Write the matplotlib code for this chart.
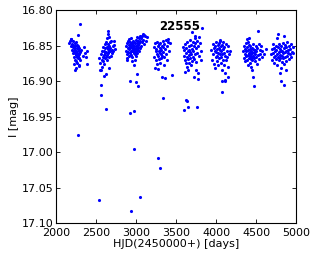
import numpy as np
import matplotlib
matplotlib.use("Agg")
import matplotlib.pyplot as plt

plt.rcParams.update({"font.family": "DejaVu Sans", "font.size": 8})

# (HJD-2450000, I mag) per observing season
season1 = [(2165, 16.846), (2176, 16.843), (2185, 16.841), (2192, 16.851), (2198, 16.848), (2203, 16.856),
           (2207, 16.844), (2212, 16.852), (2215, 16.861), (2219, 16.849), (2223, 16.858), (2226, 16.854),
           (2229, 16.866), (2232, 16.847), (2236, 16.860), (2238, 16.851), (2241, 16.870), (2244, 16.856),
           (2247, 16.863), (2249, 16.845), (2252, 16.872), (2255, 16.858), (2258, 16.853), (2260, 16.866),
           (2263, 16.849), (2266, 16.861), (2268, 16.874), (2271, 16.855), (2274, 16.864), (2277, 16.850),
           (2279, 16.868), (2282, 16.857), (2285, 16.878), (2288, 16.862), (2290, 16.853), (2294, 16.867),
           (2297, 16.859), (2300, 16.871), (2318, 16.856), (2332, 16.864), (2346, 16.852), (2358, 16.860),
           (2370, 16.866), (2382, 16.858), (2391, 16.876), (2241, 16.885), (2291, 16.879), (2275, 16.835),
           (2187, 16.841), (2300, 16.819), (2250, 16.881), (2226, 16.876), (2271, 16.976)]
season2 = [(2535, 16.867), (2548, 16.884), (2555, 16.874), (2562, 16.862), (2568, 16.885), (2575, 16.870),
           (2580, 16.858), (2585, 16.866), (2590, 16.872), (2594, 16.852), (2598, 16.863), (2602, 16.893),
           (2605, 16.857), (2609, 16.868), (2612, 16.848), (2615, 16.861), (2619, 16.854), (2622, 16.890),
           (2625, 16.866), (2628, 16.845), (2631, 16.859), (2634, 16.852), (2637, 16.870), (2640, 16.840),
           (2643, 16.863), (2646, 16.855), (2649, 16.848), (2652, 16.861), (2655, 16.834), (2658, 16.857),
           (2661, 16.866), (2664, 16.850), (2667, 16.882), (2670, 16.845), (2674, 16.858), (2678, 16.853),
           (2684, 16.864), (2690, 16.843), (2696, 16.856), (2703, 16.860), (2710, 16.851), (2717, 16.857),
           (2724, 16.849), (2730, 16.844), (2737, 16.855), (2654, 16.829), (2660, 16.838), (2598, 16.876),
           (2580, 16.880), (2562, 16.905), (2562, 16.920), (2621, 16.940), (2542, 17.068)]
season3 = [(2870, 16.857), (2876, 16.850), (2882, 16.862), (2888, 16.846), (2893, 16.868), (2897, 16.853),
           (2901, 16.843), (2905, 16.859), (2908, 16.849), (2912, 16.864), (2915, 16.841), (2918, 16.855),
           (2921, 16.848), (2924, 16.860), (2927, 16.852), (2930, 16.845), (2933, 16.857), (2936, 16.863),
           (2939, 16.850), (2942, 16.839), (2945, 16.854), (2948, 16.858), (2951, 16.847), (2954, 16.866),
           (2957, 16.852), (2960, 16.843), (2963, 16.856), (2966, 16.849), (2969, 16.861), (2972, 16.853),
           (2975, 16.845), (2978, 16.859), (2981, 16.851), (2984, 16.870), (2987, 16.847), (2990, 16.855),
           (2993, 16.862), (2996, 16.842), (2999, 16.857), (3002, 16.850), (3005, 16.865), (3008, 16.846),
           (3011, 16.853), (3014, 16.838), (3017, 16.860), (3020, 16.849), (3023, 16.856), (3026, 16.843),
           (3030, 16.852), (3034, 16.840), (3038, 16.858), (3042, 16.847), (3046, 16.836), (3050, 16.854),
           (3055, 16.844), (3060, 16.839), (3065, 16.850), (3070, 16.836), (3076, 16.845), (3082, 16.834),
           (3088, 16.842), (3095, 16.835), (3102, 16.848), (3110, 16.836), (3120, 16.843), (3135, 16.838),
           (2980, 16.877), (3010, 16.890), (2950, 16.872), (2890, 16.870), (2925, 16.900), (2996, 16.902),
           (3025, 16.907), (2921, 16.945), (2975, 16.942), (2979, 16.996), (3054, 17.064), (2933, 17.083)]
season4 = [(3222, 16.852), (3230, 16.866), (3238, 16.882), (3243, 16.847), (3248, 16.858), (3252, 16.870),
           (3256, 16.855), (3260, 16.862), (3264, 16.845), (3268, 16.876), (3272, 16.851), (3276, 16.864),
           (3279, 16.883), (3283, 16.857), (3287, 16.848), (3290, 16.869), (3294, 16.860), (3298, 16.853),
           (3302, 16.874), (3306, 16.846), (3310, 16.862), (3314, 16.856), (3318, 16.868), (3322, 16.894),
           (3326, 16.850), (3330, 16.865), (3334, 16.843), (3338, 16.859), (3342, 16.852), (3346, 16.878),
           (3350, 16.848), (3355, 16.866), (3360, 16.895), (3365, 16.855), (3370, 16.842), (3376, 16.862),
           (3382, 16.850), (3390, 16.871), (3398, 16.845), (3404, 16.841), (3412, 16.858), (3425, 16.846),
           (3446, 16.891), (3337, 16.924), (3275, 17.008), (3304, 17.023)]
season5 = [(3592, 16.852), (3598, 16.864), (3604, 16.856), (3608, 16.871), (3612, 16.887), (3616, 16.848),
           (3620, 16.860), (3624, 16.875), (3628, 16.853), (3632, 16.866), (3636, 16.845), (3640, 16.880),
           (3644, 16.858), (3648, 16.869), (3652, 16.884), (3656, 16.851), (3660, 16.863), (3664, 16.874),
           (3668, 16.856), (3672, 16.842), (3676, 16.868), (3680, 16.859), (3684, 16.878), (3688, 16.849),
           (3692, 16.862), (3696, 16.831), (3700, 16.855), (3704, 16.872), (3708, 16.845), (3712, 16.866),
           (3716, 16.858), (3720, 16.894), (3724, 16.851), (3728, 16.869), (3732, 16.840), (3737, 16.847),
           (3741, 16.862), (3745, 16.885), (3750, 16.854), (3755, 16.873), (3760, 16.843), (3765, 16.860),
           (3770, 16.889), (3776, 16.850), (3780, 16.897), (3786, 16.865), (3792, 16.838), (3800, 16.847),
           (3808, 16.858), (3815, 16.870), (3829, 16.825), (3740, 16.836), (3621, 16.926), (3642, 16.928),
           (3654, 16.936), (3604, 16.941), (3758, 16.936)]
season6 = [(3942, 16.856), (3950, 16.870), (3958, 16.848), (3964, 16.862), (3970, 16.853), (3976, 16.876),
           (3982, 16.858), (3987, 16.882), (3992, 16.850), (3996, 16.866), (4000, 16.859), (4004, 16.845),
           (4008, 16.872), (4012, 16.855), (4016, 16.864), (4020, 16.849), (4024, 16.878), (4028, 16.860),
           (4032, 16.853), (4036, 16.868), (4040, 16.846), (4044, 16.862), (4048, 16.856), (4052, 16.842),
           (4056, 16.874), (4060, 16.851), (4064, 16.866), (4068, 16.858), (4072, 16.884), (4076, 16.849),
           (4080, 16.862), (4084, 16.870), (4088, 16.855), (4092, 16.845), (4096, 16.877), (4100, 16.860),
           (4105, 16.852), (4110, 16.889), (4115, 16.864), (4120, 16.848), (4126, 16.871), (4132, 16.857),
           (4140, 16.866), (4148, 16.850), (4155, 16.880), (4165, 16.862), (4180, 16.858), (4112, 16.899),
           (4154, 16.894), (4071, 16.900), (4116, 16.900), (4079, 16.916), (4050, 16.843)]
season7 = [(4342, 16.858), (4350, 16.868), (4355, 16.850), (4360, 16.862), (4364, 16.855), (4368, 16.872),
           (4372, 16.846), (4376, 16.865), (4380, 16.858), (4383, 16.841), (4386, 16.870), (4390, 16.852),
           (4394, 16.863), (4398, 16.856), (4402, 16.877), (4406, 16.849), (4410, 16.861), (4412, 16.840),
           (4415, 16.868), (4418, 16.855), (4421, 16.874), (4424, 16.859), (4427, 16.864), (4430, 16.851),
           (4433, 16.869), (4436, 16.857), (4439, 16.862), (4442, 16.880), (4445, 16.853), (4448, 16.866),
           (4451, 16.860), (4454, 16.871), (4457, 16.855), (4460, 16.864), (4463, 16.848), (4467, 16.894),
           (4470, 16.859), (4474, 16.867), (4479, 16.907), (4483, 16.856), (4487, 16.872), (4491, 16.862),
           (4495, 16.850), (4500, 16.866), (4505, 16.858), (4510, 16.876), (4515, 16.853), (4521, 16.830),
           (4526, 16.863), (4532, 16.848), (4538, 16.869), (4545, 16.856), (4552, 16.862), (4560, 16.851),
           (4570, 16.866), (4580, 16.857), (4595, 16.862), (4618, 16.855), (4443, 16.885), (4400, 16.845)]
season8 = [(4690, 16.862), (4700, 16.855), (4705, 16.870), (4710, 16.848), (4715, 16.860), (4720, 16.866),
           (4725, 16.853), (4730, 16.875), (4735, 16.858), (4740, 16.864), (4745, 16.850), (4750, 16.869),
           (4755, 16.856), (4758, 16.840), (4762, 16.862), (4766, 16.878), (4770, 16.852), (4774, 16.866),
           (4779, 16.833), (4782, 16.859), (4786, 16.871), (4790, 16.848), (4794, 16.863), (4798, 16.855),
           (4802, 16.868), (4806, 16.858), (4810, 16.882), (4814, 16.851), (4816, 16.900), (4820, 16.864),
           (4824, 16.857), (4828, 16.873), (4832, 16.846), (4836, 16.861), (4840, 16.867), (4844, 16.854),
           (4848, 16.876), (4850, 16.836), (4854, 16.905), (4858, 16.859), (4862, 16.849), (4866, 16.866),
           (4870, 16.857), (4875, 16.872), (4880, 16.852), (4885, 16.864), (4890, 16.845), (4895, 16.861),
           (4900, 16.856), (4906, 16.869), (4912, 16.850), (4918, 16.862), (4925, 16.855), (4932, 16.866),
           (4940, 16.848), (4948, 16.859), (4956, 16.852), (4967, 16.860), (4800, 16.888), (4870, 16.885)]

seasons = [season1, season2, season3, season4, season5, season6, season7, season8]
star_id = "22555"

xticks = [2000, 2500, 3000, 3500, 4000, 4500, 5000]
yticks = [16.80, 16.85, 16.90, 16.95, 17.00, 17.05, 17.10]

fig = plt.figure(figsize=(3.16, 2.59), dpi=100)
ax = fig.add_axes([0.177, 0.139, 0.760, 0.822])

pts = np.array([p for s in seasons for p in s])
ax.plot(pts[:, 0], pts[:, 1], ".", color="blue", ms=4.5, mew=0)

ax.set_xlim(2000, 5000)
ax.set_ylim(17.10, 16.80)
ax.set_xticks(xticks)
ax.set_yticks(yticks)
ax.set_yticklabels([f"{v:.2f}" for v in yticks])
ax.tick_params(direction="in", top=True, right=True, length=3, width=0.6,
               labelsize=8)
ax.tick_params(axis="x", pad=3.5)
ax.tick_params(axis="y", pad=2)
for s in ax.spines.values():
    s.set_linewidth(0.8)

ax.set_xlabel("HJD(2450000+) [days]", fontsize=8, labelpad=1)
ax.set_ylabel("I [mag]", fontsize=8, labelpad=2)

ax.text(3544, 16.8235, star_id, fontsize=8.5, weight="bold", ha="center", va="center")

fig.savefig("out.png", dpi=100)
